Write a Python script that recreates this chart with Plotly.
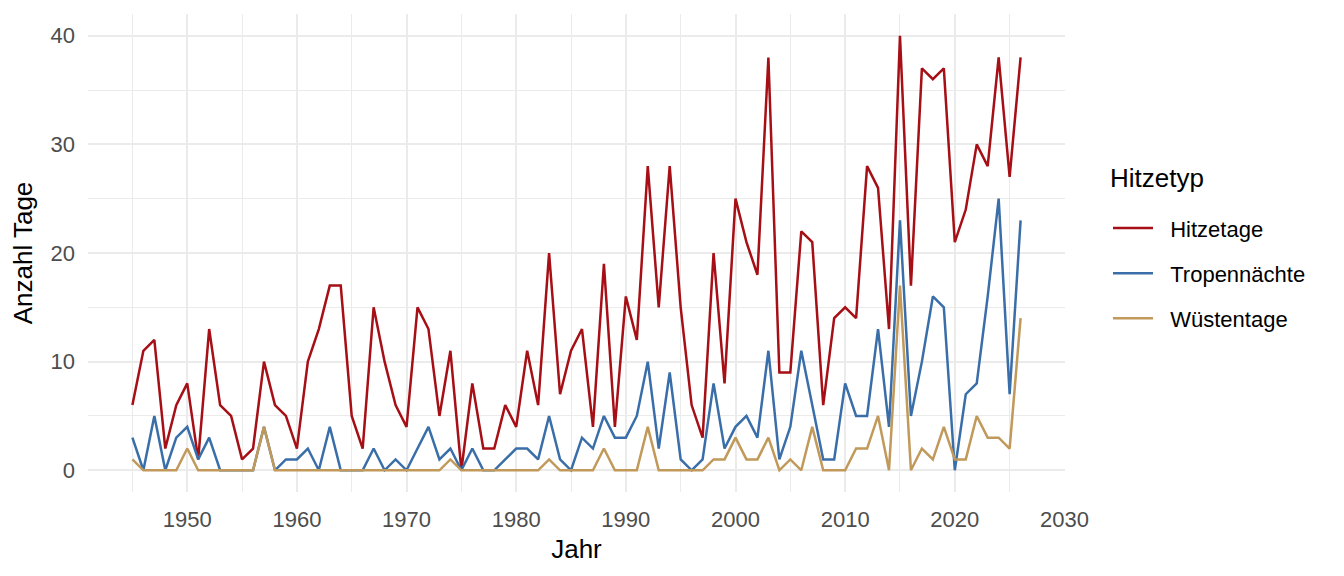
import plotly.graph_objects as go

years = list(range(1945, 2027))

hitzetage = [
    6, 11, 12, 2, 6, 8, 1, 13, 6, 5,
    1, 2, 10, 6, 5, 2, 10, 13, 17, 17,
    5, 2, 15, 10, 6, 4, 15, 13, 5, 11,
    0, 8, 2, 2, 6, 4, 11, 6, 20, 7,
    11, 13, 4, 19, 4, 16, 12, 28, 15, 28,
    15, 6, 3, 20, 8, 25, 21, 18, 38, 9,
    9, 22, 21, 6, 14, 15, 14, 28, 26, 13,
    40, 17, 37, 36, 37, 21, 24, 30, 28, 38,
    27, 38,
]

tropennaechte = [
    3, 0, 5, 0, 3, 4, 1, 3, 0, 0,
    0, 0, 4, 0, 1, 1, 2, 0, 4, 0,
    0, 0, 2, 0, 1, 0, 2, 4, 1, 2,
    0, 2, 0, 0, 1, 2, 2, 1, 5, 1,
    0, 3, 2, 5, 3, 3, 5, 10, 2, 9,
    1, 0, 1, 8, 2, 4, 5, 3, 11, 1,
    4, 11, 6, 1, 1, 8, 5, 5, 13, 4,
    23, 5, 10, 16, 15, 0, 7, 8, 16, 25,
    7, 23,
]

wuestentage = [
    1, 0, 0, 0, 0, 2, 0, 0, 0, 0,
    0, 0, 4, 0, 0, 0, 0, 0, 0, 0,
    0, 0, 0, 0, 0, 0, 0, 0, 0, 1,
    0, 0, 0, 0, 0, 0, 0, 0, 1, 0,
    0, 0, 0, 2, 0, 0, 0, 4, 0, 0,
    0, 0, 0, 1, 1, 3, 1, 1, 3, 0,
    1, 0, 4, 0, 0, 0, 2, 2, 5, 0,
    17, 0, 2, 1, 4, 1, 1, 5, 3, 3,
    2, 14,
]

series_names = ["Hitzetage", "Tropennächte", "Wüstentage"]
series_values = [hitzetage, tropennaechte, wuestentage]
colors = ["#A50F15", "#3A6EA8", "#C1995A"]

x_tickvals = [1950, 1960, 1970, 1980, 1990, 2000, 2010, 2020, 2030]
y_tickvals = [0, 10, 20, 30, 40]

FONT = "Liberation Sans, Arial, Helvetica, sans-serif"

fig = go.Figure()
for i, (name, vals, col) in enumerate(zip(series_names, series_values, colors)):
    fig.add_trace(go.Scatter(
        x=years, y=vals, mode="lines", name="\u00a0\u00a0" + name,
        line=dict(color=col, width=2.5),
        legendgroup=f"g{i}",
    ))

fig.update_layout(
    width=1336, height=568,
    paper_bgcolor="white", plot_bgcolor="white",
    margin=dict(l=80, r=279, t=6, b=84, autoexpand=False),
    font=dict(family=FONT, size=22, color="#4D4D4D"),
    showlegend=True,
    legend=dict(
        font=dict(size=22, color="black"),
        x=1.044, xanchor="left", y=0.5956, yanchor="top",
        tracegroupgap=13.5, itemwidth=40, bgcolor="rgba(0,0,0,0)",
    ),
    annotations=[dict(
        text="Hitzetyp", xref="paper", yref="paper",
        x=1.044, y=0.656, xanchor="left", yanchor="middle",
        showarrow=False, font=dict(size=26, color="black"),
    )],
)

fig.update_xaxes(
    range=[1940.95, 2030.05], tickvals=x_tickvals,
    showgrid=True, gridcolor="#EBEBEB", gridwidth=1.6,
    minor=dict(dtick=5, tick0=1945, showgrid=True, gridcolor="#EBEBEB", gridwidth=0.9),
    zeroline=False, showline=False, ticks="", ticklen=0,
    tickfont=dict(size=22, color="#4D4D4D"),
    ticklabelstandoff=12,
    title=dict(text="Jahr", font=dict(size=26, color="black"), standoff=8),
    automargin=False,
)
fig.update_yaxes(
    range=[-2, 42], tickvals=y_tickvals,
    showgrid=True, gridcolor="#EBEBEB", gridwidth=1.6,
    minor=dict(dtick=5, tick0=0, showgrid=True, gridcolor="#EBEBEB", gridwidth=0.9),
    zeroline=False, showline=False, ticks="", ticklen=0,
    tickfont=dict(size=22, color="#4D4D4D"),
    ticklabelstandoff=12,
    title=dict(text="Anzahl Tage", font=dict(size=26, color="black"), standoff=11),
    automargin=False,
)

fig.write_html("out.html")
